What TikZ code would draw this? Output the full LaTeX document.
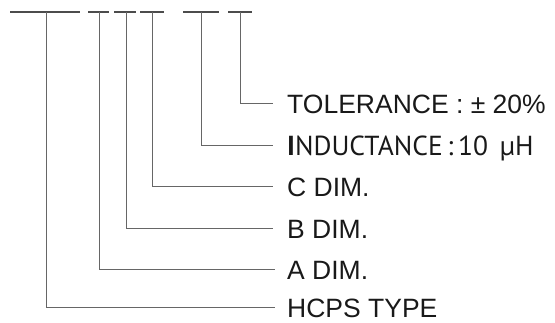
\documentclass[tikz,border=0pt]{standalone}
\usepackage{fontspec}
\setmainfont{Liberation Sans}
\newfontfamily\indfont{PT Sans}
\begin{document}
\begin{tikzpicture}[x=1pt,y=-1pt,
  bar/.style={line width=1.6pt,draw=black!70},
  lead/.style={line width=1pt,draw=black!60},
  lbl/.style={anchor=base west,inner sep=0pt,font=\fontsize{26.5}{30}\selectfont,text=black!90}]
\useasboundingbox (0,0) rectangle (555,323);
% top bars
\coordinate (b1l) at (10,12);  \coordinate (b1r) at (80,12);
\coordinate (b2l) at (88,12);  \coordinate (b2r) at (109,12);
\coordinate (b3l) at (114,12); \coordinate (b3r) at (136,12);
\coordinate (b4l) at (140,12); \coordinate (b4r) at (164,12);
\coordinate (b5l) at (183,12); \coordinate (b5r) at (219,12);
\coordinate (b6l) at (228,12); \coordinate (b6r) at (252,12);
\foreach \i in {1,...,6}{\draw[bar] (b\i l) -- (b\i r);}
% vertical tops
\coordinate (v1) at (46,12);
\coordinate (v2) at (99.5,12);
\coordinate (v3) at (126.5,12);
\coordinate (v4) at (152,12);
\coordinate (v5) at (201,12);
\coordinate (v6) at (240,12);
% lead ends
\coordinate (e6) at (273,104);
\coordinate (e5) at (273,146);
\coordinate (e4) at (273,187);
\coordinate (e3) at (273,229);
\coordinate (e2) at (275,270);
\coordinate (e1) at (275,308);
\foreach \i in {1,...,6}{\draw[lead] (v\i) |- (e\i);}
% labels
\node[lbl] (t6) at (287,113.5) {TOLERANCE : ± 20\%};
\node[lbl,font=\indfont\fontsize{27.5}{30}\selectfont] (t5) at (287,155.5) {{\bfseries I}NDUCTANCE\,:\,10\ \,µH};
\node[lbl] (t4) at (287,196.5) {C DIM.};
\node[lbl] (t3) at (287,238.5) {B DIM.};
\node[lbl] (t2) at (287,279.5) {A DIM.};
\node[lbl] (t1) at (287,317.5) {HCPS TYPE};
\end{tikzpicture}
\end{document}
